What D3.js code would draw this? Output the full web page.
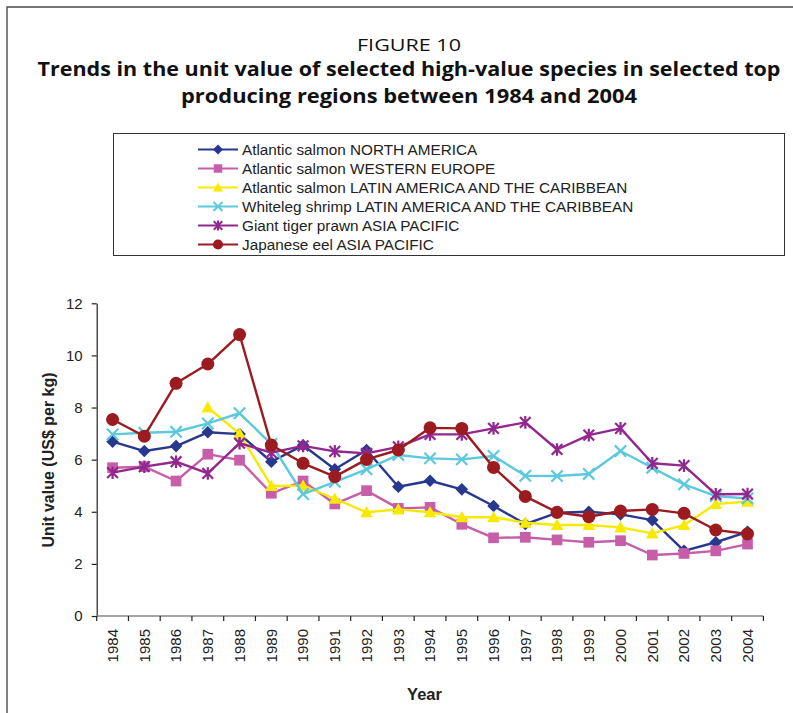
<!DOCTYPE html>
<html>
<head>
<meta charset="utf-8">
<script src="https://cdn.jsdelivr.net/npm/d3@7"></script>
<style>
  html, body { margin: 0; padding: 0; background: #fff; }
  svg { display: block; }
</style>
</head>
<body>
<svg id="chart" width="793" height="713"></svg>
<script>
// ---------- DATA ----------
const years = [1984,1985,1986,1987,1988,1989,1990,1991,1992,1993,1994,1995,1996,1997,1998,1999,2000,2001,2002,2003,2004];
const seriesNames = [
  "Atlantic salmon NORTH AMERICA",
  "Atlantic salmon WESTERN EUROPE",
  "Atlantic salmon LATIN AMERICA AND THE CARIBBEAN",
  "Whiteleg shrimp LATIN AMERICA AND THE CARIBBEAN",
  "Giant tiger prawn ASIA PACIFIC",
  "Japanese eel ASIA PACIFIC"
];
const salmonNorthAmerica = [6.69,6.33,6.52,7.05,6.98,5.92,6.55,5.63,6.37,4.96,5.19,4.86,4.22,3.53,3.96,4.00,3.90,3.68,2.50,2.83,3.23];
const salmonWesternEurope = [5.69,5.73,5.18,6.21,5.98,4.71,5.18,4.30,4.81,4.13,4.17,3.52,3.00,3.02,2.92,2.83,2.89,2.34,2.40,2.50,2.76];
const salmonLatinAmerica = [null,null,null,8.00,7.00,4.99,5.00,4.50,3.98,4.09,3.98,3.79,3.79,3.58,3.49,3.49,3.40,3.17,3.49,4.30,4.39];
const shrimpLatinAmerica = [6.97,7.03,7.07,7.39,7.78,6.60,4.68,5.15,5.63,6.18,6.05,6.01,6.14,5.38,5.37,5.45,6.33,5.69,5.05,4.60,4.51];
const prawnAsiaPacific = [5.50,5.73,5.92,5.47,6.63,6.27,6.53,6.32,6.24,6.49,6.97,6.97,7.20,7.43,6.39,6.94,7.20,5.86,5.77,4.67,4.68];
const eelAsiaPacific = [7.54,6.90,8.93,9.67,10.80,6.56,5.86,5.35,6.01,6.37,7.22,7.20,5.70,4.59,3.98,3.81,4.03,4.09,3.94,3.30,3.15];
const yTicks = [0,2,4,6,8,10,12];
const titleLines = ["FIGURE 10",
  "Trends in the unit value of selected high-value species in selected top",
  "producing regions between 1984 and 2004"];
const yLabel = "Unit value (US$ per kg)";
const xLabel = "Year";

// ---------- STYLE ----------
const seriesValues = [salmonNorthAmerica, salmonWesternEurope, salmonLatinAmerica, shrimpLatinAmerica, prawnAsiaPacific, eelAsiaPacific];
const colors = ["#28388f", "#c75ea8", "#f7ea00", "#5cc9dc", "#92278f", "#9b1b20"];
const markers = ["diamond", "square", "triangle", "x", "star", "circle"];
const FONT = "'Liberation Sans', Arial, sans-serif";

function markerPath(type, s) {
  switch (type) {
    case "diamond": return `M0,${-s}L${s},0L0,${s}L${-s},0Z`;
    case "square": { const h = s * 0.85; return `M${-h},${-h}H${h}V${h}H${-h}Z`; }
    case "triangle": return `M0,${-s}L${s},${s*0.8}L${-s},${s*0.8}Z`;
    case "x": { const h = s * 0.9; return `M${-h},${-h}L${h},${h}M${-h},${h}L${h},${-h}`; }
    case "star": { const h = s * 0.85; return `M${-h},${-h}L${h},${h}M${-h},${h}L${h},${-h}M0,${-s}L0,${s}`; }
    case "circle": return d3.symbol(d3.symbolCircle, Math.PI * s * s)();
  }
}
const isStroked = t => t === "x" || t === "star";

const svg = d3.select("#chart");

// outer frame
svg.append("path")
  .attr("d", "M7,713V7H793")
  .attr("fill", "none").attr("stroke", "#4a4a4a").attr("stroke-width", 1.4);

// titles
const titleSpec = [
  {y: 51, size: 17, weight: "normal", width: 104},
  {y: 76, size: 19, weight: "bold", width: 743},
  {y: 103, size: 19, weight: "bold", width: 456}
];
titleLines.forEach((t, i) => {
  svg.append("text")
    .attr("x", 409).attr("y", titleSpec[i].y)
    .attr("text-anchor", "middle")
    .attr("font-family", "'Open Sans', sans-serif")
    .attr("font-size", titleSpec[i].size)
    .attr("font-weight", titleSpec[i].weight)
    .attr("fill", "#111")
    .attr("textLength", titleSpec[i].width)
    .attr("lengthAdjust", "spacingAndGlyphs")
    .text(t);
});

// legend
svg.append("rect")
  .attr("x", 113.5).attr("y", 133.5).attr("width", 671).attr("height", 122)
  .attr("fill", "none").attr("stroke", "#333").attr("stroke-width", 1);
const legendRows = d3.scalePoint().domain(seriesNames).range([149.5, 244.5]);
seriesNames.forEach((name, i) => {
  const y = legendRows(name);
  const g = svg.append("g");
  g.append("line").attr("x1", 198).attr("x2", 238).attr("y1", y).attr("y2", y)
    .attr("stroke", colors[i]).attr("stroke-width", 2.2);
  g.append("path").attr("transform", `translate(218,${y})`)
    .attr("d", markerPath(markers[i], 5))
    .attr("fill", isStroked(markers[i]) ? "none" : colors[i])
    .attr("stroke", colors[i]).attr("stroke-width", isStroked(markers[i]) ? 2 : 0);
  g.append("text").attr("x", 242).attr("y", y).attr("dy", "0.36em")
    .attr("font-family", FONT).attr("font-size", 15.3).attr("fill", "#222")
    .text(name);
});

// scales
const x = d3.scaleBand().domain(years).range([96.7, 763.4]).padding(0);
const y = d3.scaleLinear().domain([0, 12]).range([616, 303.3]);
const cx = d => x(d) + x.bandwidth() / 2;

// y axis
const yAxis = svg.append("g").attr("transform", "translate(96.7,0)")
  .call(d3.axisLeft(y).tickValues(yTicks).tickSize(5).tickPadding(9).tickSizeOuter(0));
yAxis.select(".domain").attr("stroke", "#222").attr("stroke-width", 1.2);
yAxis.selectAll(".tick line").attr("stroke", "#222").attr("stroke-width", 1.2);
yAxis.selectAll("text").attr("font-family", FONT).attr("font-size", 15).attr("fill", "#222");

// x axis (ticks between categories, Excel style)
const xAxis = svg.append("g").attr("transform", "translate(0,616)");
xAxis.append("line").attr("x1", x.range()[0]).attr("x2", x.range()[1])
  .attr("stroke", "#888").attr("stroke-width", 1.6);
const boundaries = years.map(d => x(d)).concat([x.range()[1]]);
xAxis.selectAll(".xt").data(boundaries).join("line").attr("class", "xt")
  .attr("x1", d => d).attr("x2", d => d).attr("y1", 0).attr("y2", 5)
  .attr("stroke", "#222").attr("stroke-width", 1.2);
xAxis.selectAll(".xl").data(years).join("text").attr("class", "xl")
  .attr("transform", d => `translate(${cx(d)},13) rotate(-90)`)
  .attr("dy", "0.36em").attr("text-anchor", "end")
  .attr("font-family", FONT).attr("font-size", 15).attr("fill", "#222")
  .text(d => d);

// axis titles
svg.append("text")
  .attr("transform", "translate(54,460) rotate(-90)")
  .attr("text-anchor", "middle")
  .attr("font-family", FONT).attr("font-size", 16).attr("font-weight", "bold").attr("fill", "#222")
  .text(yLabel);
svg.append("text")
  .attr("x", 424.5).attr("y", 699.5)
  .attr("text-anchor", "middle")
  .attr("font-family", FONT).attr("font-size", 16.5).attr("font-weight", "bold").attr("fill", "#222")
  .text(xLabel);

// series
const line = d3.line().defined(d => d.v != null).x(d => cx(d.year)).y(d => y(d.v));
seriesValues.forEach((vals, i) => {
  const pts = years.map((yr, j) => ({year: yr, v: vals[j]}));
  const g = svg.append("g");
  g.append("path").datum(pts).attr("d", line)
    .attr("fill", "none").attr("stroke", colors[i]).attr("stroke-width", 2.4)
    .attr("stroke-linejoin", "round");
  g.selectAll("path.m").data(pts.filter(d => d.v != null)).join("path").attr("class", "m")
    .attr("transform", d => `translate(${cx(d.year)},${y(d.v)})`)
    .attr("d", markerPath(markers[i], markers[i] === "circle" ? 6.5 : 6.3))
    .attr("fill", isStroked(markers[i]) ? "none" : colors[i])
    .attr("stroke", colors[i]).attr("stroke-width", isStroked(markers[i]) ? 2.2 : 0);
});
</script>
</body>
</html>
